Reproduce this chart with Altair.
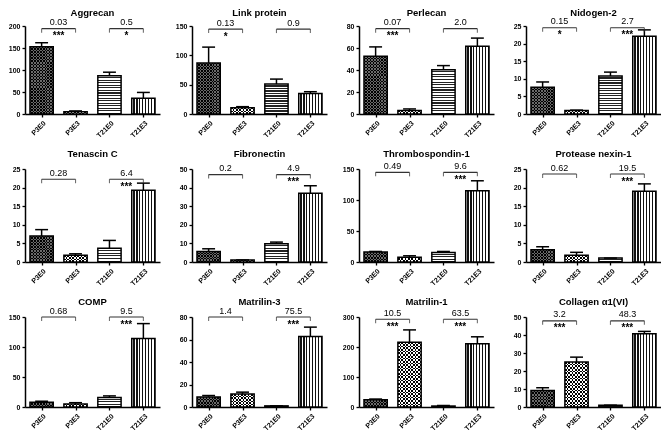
import json
import altair as alt
import pandas as pd

GENES = ["Aggrecan", "Link protein", "Perlecan", "Nidogen-2",
         "Tenascin  C", "Fibronectin", "Thrombospondin-1", "Protease nexin-1",
         "COMP", "Matrilin-3", "Matrilin-1", "Collagen \u03b11(VI)"]
GROUPS = ["P3E0", "P3E3", "T21E0", "T21E3"]
YMAX = [200, 150, 80, 25, 25, 50, 150, 25, 150, 80, 300, 50]
YSTEP = [50, 50, 20, 5, 5, 10, 50, 5, 50, 20, 100, 10]
MEANS = [
    [153, 5, 87, 36],
    [87, 10.5, 51, 35],
    [52.5, 3.2, 40.3, 61.7],
    [7.6, 1.0, 10.8, 22.1],
    [7.0, 1.8, 3.7, 19.3],
    [5.7, 1.1, 9.8, 37],
    [16, 7.5, 15.5, 115],
    [3.3, 1.8, 1.05, 19.0],
    [8, 5, 16, 114],
    [9, 11.5, 1.0, 62.6],
    [24, 216, 3.2, 211],
    [9.1, 25, 1.0, 40.7],
]
SDS = [
    [9, 2, 8, 13],
    [27, 2, 8.5, 3],
    [8.5, 1.4, 3.7, 7.3],
    [1.5, 0.1, 1.1, 1.8],
    [1.7, 0.4, 2.1, 1.9],
    [1.4, 0, 0.9, 4],
    [1, 2.5, 1.5, 16],
    [0.8, 0.8, 0, 2.0],
    [1.6, 2.2, 2.5, 25],
    [1.2, 1.7, 0, 8.4],
    [2.5, 41, 1.8, 23],
    [1.6, 2.7, 0, 1.3],
]
FOLD_LEFT = ["0.03", "0.13", "0.07", "0.15", "0.28", "0.2", "0.49", "0.62", "0.68", "1.4", "10.5", "3.2"]
FOLD_RIGHT = ["0.5", "0.9", "2.0", "2.7", "6.4", "4.9", "9.6", "19.5", "9.5", "75.5", "63.5", "48.3"]
STARS_LEFT = ["***", "*", "***", "*", "", "", "", "", "", "", "***", "***"]
STARS_RIGHT = ["*", "", "", "***", "***", "***", "***", "***", "***", "***", "***", "***"]
BRACKET_LEVEL = [0.97, 0.965, 0.97, 0.98, 0.89, 0.94, 0.964, 0.946, 1.0, 1.0, 0.975, 0.957]

# ---- layout / style ----
W = 135
HS = [88, 93, 90]
TITLE_Y = [-10, -12, -12]
PAD = 0.49
BAR_HALF = 0.343
CAP_HALF = 0.19
FONT = "Liberation Sans"
BAR_PX = W / (3 + 2 * PAD) * 2 * BAR_HALF


def stripes(n, c1, c2, frac1, horizontal):
    n = max(1, int(n))
    stops = []
    for i in range(n):
        a = round(i / n, 4)
        m = round((i + frac1) / n, 4)
        b = round((i + 1) / n, 4)
        stops += [{"offset": a, "color": c1}, {"offset": m, "color": c1},
                  {"offset": m, "color": c2}, {"offset": b, "color": c2}]
    g = {"gradient": "linear", "stops": stops}
    if horizontal:
        g.update(x1=0, x2=0, y1=0, y2=1)
    else:
        g.update(x1=0, x2=1, y1=0, y2=0)
    return g


label_expr = json.dumps(GROUPS) + "[datum.value]"


def panel(k):
    row = k // 4
    H = HS[row]
    ymax = YMAX[k]
    df = pd.DataFrame({
        "group": GROUPS,
        "idx": [0, 1, 2, 3],
        "mean": MEANS[k],
        "upper": [m + s for m, s in zip(MEANS[k], SDS[k])],
    })
    xscale = alt.Scale(domain=[-PAD, 3 + PAD], nice=False, zero=False)
    yscale = alt.Scale(domain=[0, ymax], nice=False, zero=True)
    xaxis = alt.Axis(values=[0, 1, 2, 3], labelExpr=label_expr, labelAngle=-45,
                     labelOverlap=False, labelFlush=False, grid=False)
    yaxis = alt.Axis(values=list(range(0, ymax + 1, YSTEP[k])), grid=False,
                     labelFlush=False, labelOverlap=False, labelPadding=2)

    def X(f):
        return alt.X(f, type="quantitative", scale=xscale, axis=xaxis, title=None)

    def Y(f):
        return alt.Y(f, type="quantitative", scale=yscale, axis=yaxis, title=None)

    base = alt.Chart(df).transform_calculate(
        x0="datum.idx - %f" % BAR_HALF,
        x1="datum.idx + %f" % BAR_HALF,
        c0="datum.idx - %f" % CAP_HALF,
        c1="datum.idx + %f" % CAP_HALF,
        zero="0",
    )

    def bar_px(i):
        return MEANS[k][i] / ymax * H

    layers = []

    def bar(i, fill, blend=None):
        kw = dict(fill=fill, strokeWidth=0)
        if blend:
            kw["blend"] = blend
        return base.transform_filter(alt.datum.idx == i).mark_bar(**kw).encode(
            x=X("x0"), x2="x1", y=Y("mean"), y2="zero:Q")

    # P3E0: dark checker
    layers.append(bar(0, stripes(round(bar_px(0) / 3.0), "#6a6a6a", "#000000", 0.5, True)))
    layers.append(bar(0, stripes(round(BAR_PX / 3.0), "#6a6a6a", "rgba(0,0,0,0)", 0.5, False), "difference"))
    # P3E3: black/white checker
    layers.append(bar(1, stripes(round(bar_px(1) / 3.4), "#ffffff", "#000000", 0.5, True)))
    layers.append(bar(1, stripes(round(BAR_PX / 3.4), "#ffffff", "rgba(0,0,0,0)", 0.5, False), "difference"))
    # T21E0: horizontal stripes
    layers.append(bar(2, stripes(round(bar_px(2) / 2.6), "#ffffff", "#222222", 0.55, True)))
    # T21E3: vertical stripes
    layers.append(bar(3, stripes(round(BAR_PX / 2.9), "#ffffff", "#111111", 0.6, False)))
    # outlines
    layers.append(base.mark_bar(fillOpacity=0, stroke="black", strokeWidth=1.5).encode(
        x=X("x0"), x2="x1", y=Y("mean"), y2="zero:Q"))
    # error bars
    layers.append(base.mark_rule(color="black", strokeWidth=1.5).encode(
        x=X("idx"), y=Y("mean"), y2="upper:Q"))
    layers.append(base.mark_rule(color="black", strokeWidth=1.5).encode(
        x=X("c0"), x2="c1", y=Y("upper")))

    # brackets
    yb = BRACKET_LEVEL[k] * ymax
    bdf = pd.DataFrame({"a": [0, 2], "b": [1, 3], "mid": [0.5, 2.5], "yb": [yb, yb],
                        "txt": [FOLD_LEFT[k], FOLD_RIGHT[k]],
                        "stars": [STARS_LEFT[k], STARS_RIGHT[k]]})
    edf = pd.DataFrame({"e": [0, 1, 2, 3], "yb": [yb] * 4})
    bch = alt.Chart(bdf)
    layers.append(bch.mark_rule(color="#333333", strokeWidth=1.1).encode(
        x=X("a"), x2="b", y=Y("yb")))
    layers.append(alt.Chart(edf).mark_tick(orient="vertical", size=4, thickness=1.1,
                                           yOffset=2, color="#333333").encode(
        x=X("e"), y=Y("yb")))
    layers.append(bch.mark_text(fontSize=9, dy=-3.5, baseline="alphabetic", align="center",
                                font=FONT, color="black").encode(
        x=X("mid"), y=Y("yb"), text="txt:N"))
    layers.append(bch.mark_text(fontSize=10, dy=2.5, baseline="top", align="center",
                                fontWeight="bold", font=FONT, color="black").encode(
        x=X("mid"), y=Y("yb"), text="stars:N"))
    # title
    tdf = pd.DataFrame({"t": [GENES[k]]})
    layers.append(alt.Chart(tdf).mark_text(fontSize=9.5, fontWeight="bold", align="center",
                                           baseline="alphabetic", font=FONT, color="black").encode(
        x=alt.value(W / 2), y=alt.value(TITLE_Y[row]), text="t:N"))

    return alt.layer(*layers).properties(width=W, height=H)


panels = [panel(k) for k in range(12)]

chart = alt.concat(*panels, columns=4, spacing={"row": 55, "column": 32}, bounds="flush").properties(
    padding={"left": 0, "top": 0, "right": 0, "bottom": 0}
).configure_view(strokeWidth=0).configure_axis(
    domainColor="black", domainWidth=1.5, tickColor="black", tickWidth=1.3, tickSize=3,
    labelFontSize=7, labelFontWeight="bold", labelColor="black", labelFont=FONT,
)

chart.save("out.html", embed_options={"renderer": "svg", "actions": False})
